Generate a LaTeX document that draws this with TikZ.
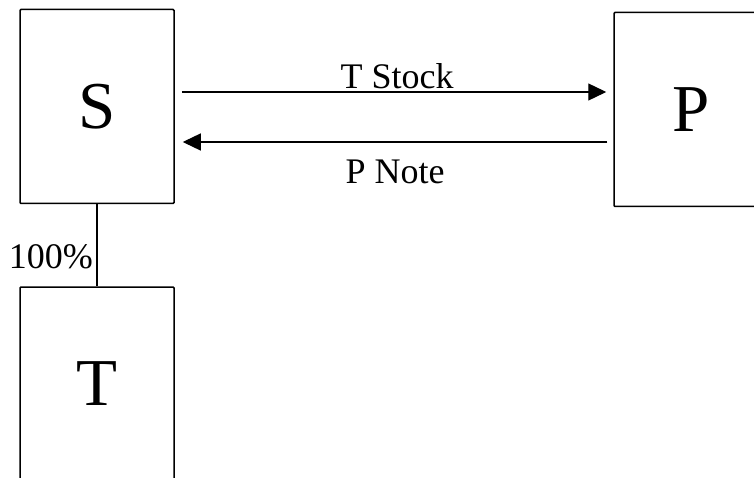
\documentclass[tikz,border=0pt]{standalone}
\usepackage{fontspec}
\setmainfont{Liberation Serif}
\usetikzlibrary{arrows.meta,positioning}

\begin{document}
\begin{tikzpicture}[x=1pt, y=-1pt,
  entity/.style={draw, line width=1.5pt, rounded corners=1pt, minimum width=154pt, minimum height=194pt, inner sep=0pt, font=\fontsize{67}{72}\selectfont},
  flow/.style={line width=1.3pt, -{Triangle[length=18pt,width=17pt]}},
  lbl/.style={font=\fontsize{36}{42}\selectfont, inner sep=0pt}]
  \useasboundingbox (0,0) rectangle (754,478);
  \clip (0,0) rectangle (754,478);

  % Entities
  \node[entity] (S) at (97,106.5) {S};
  \node[entity] (P) at (691,109.5) {P};
  \node[entity] (T) at (97,384) {T};

  % Exchange between S and P
  \draw[flow, shorten <=7pt, shorten >=7pt] ([yshift=14.5pt]S.east) -- ([yshift=17.5pt]P.west);
  \draw[flow, shorten <=6pt, shorten >=8pt] ([yshift=-32.5pt]P.west) -- ([yshift=-35.5pt]S.east);
  \node[lbl, anchor=base] (stock) at (397,89) {T Stock};
  \node[lbl, anchor=base] (note) at (395,184) {P Note};

  % Ownership
  \draw[line width=1.3pt] (S.south) -- (T.north);
  \node[lbl, anchor=base east] (own) at (93,268) {100\%};
\end{tikzpicture}
\end{document}
